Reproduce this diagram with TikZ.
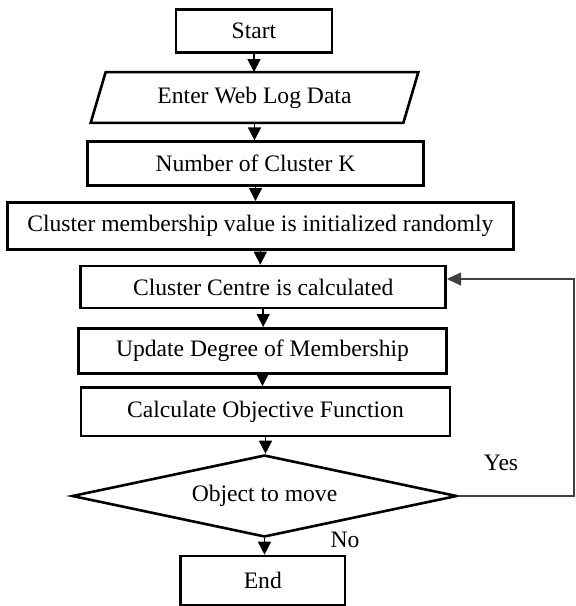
\documentclass[tikz,border=0pt]{standalone}
\usepackage{fontspec}
\setmainfont{Liberation Serif}
\usetikzlibrary{arrows.meta,shapes.geometric,calc}

\tikzset{
  every node/.style={font=\fontsize{23.6}{28}\selectfont},
  box/.style={draw, line width=2.6pt, rectangle, inner sep=0pt},
  plainbox/.style={rectangle, inner sep=0pt},
  decision/.style={draw, line width=2.6pt, diamond, inner sep=0pt, shape aspect=4.7},
  flow/.style={line width=1.5pt, -{Triangle[length=13pt,width=13pt]}},
  backflow/.style={line width=1.1pt, draw=black!75, -{Triangle[length=14pt,width=13pt]}},
  lbl/.style={inner sep=0pt}
}

\begin{document}
\begin{tikzpicture}[x=1pt,y=-1pt]
  \useasboundingbox (0,0) rectangle (576,606);

  % process steps
  \node[box, minimum width=155.7pt, minimum height=43pt] (start) at (254,30.8) {Start};
  \node[plainbox, minimum width=312.3pt, minimum height=50.4pt] (input) at (254.5,97.5) {Enter Web Log Data};
  \node[box, minimum width=335.6pt, minimum height=43.8pt] (numk) at (255.5,163.6) {Number of Cluster K};
  \node[box, minimum width=506pt, minimum height=47pt] (init) at (260.3,225.8) {Cluster membership value is initialized randomly};
  \node[box, minimum width=365pt, minimum height=42pt] (centre) at (263.2,287) {Cluster Centre is calculated};
  \node[box, minimum width=368.4pt, minimum height=45pt] (update) at (262.5,350.8) {Update Degree of Membership};
  \node[box, minimum width=369pt, minimum height=48.7pt] (objfn) at (265.5,411.7) {Calculate Objective Function};
  \node[decision, minimum width=385pt, minimum height=82pt] (move) at (264.5,496) {Object to move};
  \node[box, minimum width=164.3pt, minimum height=49pt] (finish) at (262.8,580.5) {End};

  % input/output parallelogram around the data node
  \draw[line width=2.6pt, line join=miter]
    ($(input.north west)+(7.5,0)$) -- ($(input.north east)+(7.5,0)$)
    -- ($(input.south east)+(-7.5,0)$) -- ($(input.south west)+(-7.5,0)$) -- cycle;

  % main flow
  \draw[flow] (start.south) -- (start.south |- input.north);
  \draw[flow] (input.south) -- (input.south |- numk.north);
  \draw[flow] (numk.south) -- (numk.south |- init.north);
  \draw[flow] (init.south) -- (init.south |- centre.north);
  \draw[flow] (centre.south) -- (centre.south |- update.north);
  \draw[flow] (update.south) -- (update.south |- objfn.north);
  \draw[flow] (objfn.south) -- (objfn.south |- move.north);
  \draw[flow] (move.south) -- (move.south |- finish.north);

  % loop back to the centre calculation
  \coordinate (loopdown) at (574,496);
  \coordinate (loopup) at (574,279);
  \draw[backflow] (move.east) -- (loopdown) -- (loopup) -- (loopup -| centre.east);

  % branch labels
  \node[lbl] (yes) at (501,463) {Yes};
  \node[lbl] (no) at (345,540) {No};
\end{tikzpicture}
\end{document}
